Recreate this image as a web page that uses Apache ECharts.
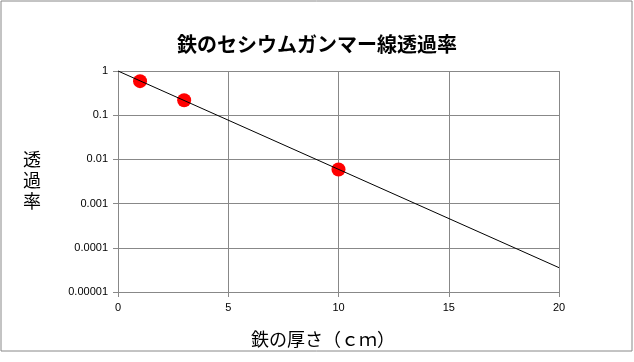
<!DOCTYPE html>
<html>
<head>
<meta charset="utf-8">
<script src="https://cdn.jsdelivr.net/npm/echarts@6/dist/echarts.min.js"></script>
<style>html,body{margin:0;padding:0;background:#fff;}#c{width:634px;height:362px;}</style>
</head>
<body>
<div id="c"></div>
<script>
const titleText = '鉄のセシウムガンマー線透過率';
const xName = '鉄の厚さ（ｃｍ）';
const yName = '透\n過\n率';
const thickness = [1, 3, 10];
const transmission = [0.59, 0.218, 0.0059];
const fitX = [0, 20];
const fitY = [1, 0.0000355];

const chart = echarts.init(document.getElementById('c'), null, {renderer: 'canvas'});
const font = '"Noto Sans CJK JP", sans-serif';
chart.setOption({
  animation: false,
  backgroundColor: '#fff',
  title: {
    text: titleText, left: 'center', top: 29,
    textStyle: {fontFamily: font, fontSize: 20, fontWeight: 'bold', color: '#000'}
  },
  grid: {left: 118, right: 75, top: 71, bottom: 70},
  xAxis: {
    type: 'value', min: 0, max: 20, interval: 5,
    axisLine: {show: true, onZero: false, lineStyle: {color: '#888', width: 1}},
    axisTick: {show: true, length: 5, lineStyle: {color: '#888'}},
    axisLabel: {color: '#000', fontSize: 11, fontFamily: 'Liberation Sans, Arial', margin: 10},
    splitLine: {show: true, lineStyle: {color: '#888', width: 1}}
  },
  yAxis: {
    type: 'log', logBase: 10, min: 0.00001, max: 1,
    axisLine: {show: true, lineStyle: {color: '#888', width: 1}},
    axisTick: {show: true, length: 5, lineStyle: {color: '#888'}},
    axisLabel: {color: '#000', fontSize: 11, fontFamily: 'Liberation Sans, Arial', margin: 10,
      formatter: v => v >= 1 ? String(Math.round(v)) : v.toFixed(Math.round(-Math.log10(v)))},
    splitLine: {show: true, lineStyle: {color: '#888', width: 1}},
    minorTick: {show: false}
  },
  graphic: [
    {type: 'rect', shape: {x: 1, y: 1, width: 631, height: 350}, style: {fill: 'none', stroke: '#888', lineWidth: 1}, silent: true},
    {type: 'text', left: 23, top: 149, style: {text: yName, font: '18px ' + font, lineHeight: 21, fill: '#000'}},
    {type: 'text', x: 323, y: 339, style: {text: xName, font: '18px ' + font, fill: '#000', align: 'center', verticalAlign: 'middle'}}
  ],
  series: [
    {type: 'line', data: fitX.map((x, i) => [x, fitY[i]]), symbol: 'none',
     lineStyle: {color: '#000', width: 1}, z: 3},
    {type: 'scatter', data: thickness.map((x, i) => [x, transmission[i]]), symbol: 'circle', symbolSize: 14,
     itemStyle: {color: '#ff0000', opacity: 1}, z: 2}
  ]
});
</script>
</body>
</html>
